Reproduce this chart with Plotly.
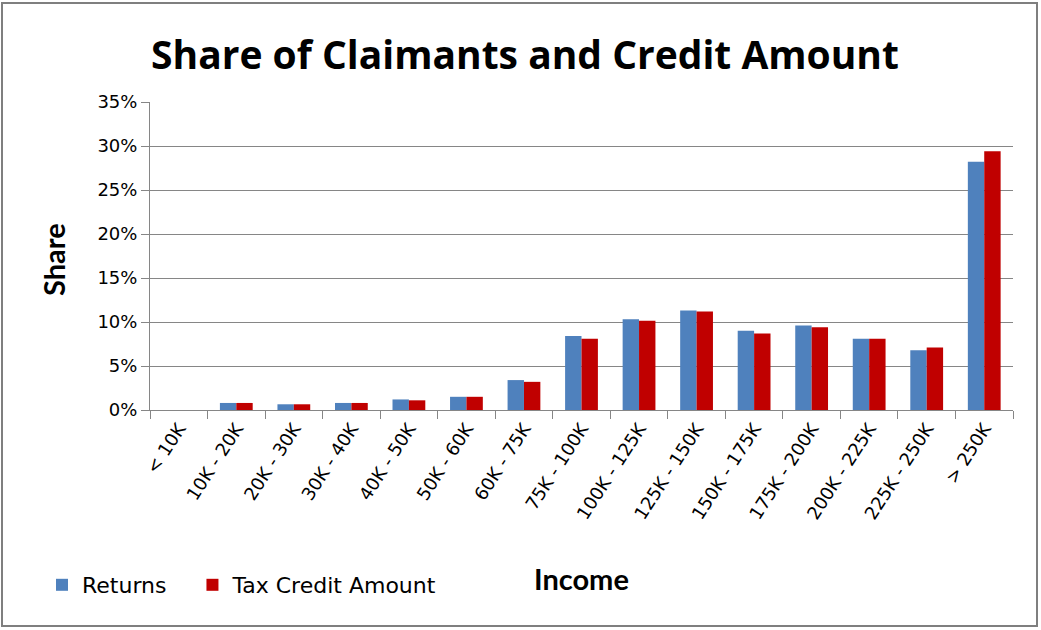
import plotly.graph_objects as go

categories = ["< 10K", "10K - 20K", "20K - 30K", "30K - 40K", "40K - 50K", "50K - 60K",
              "60K - 75K", "75K - 100K", "100K - 125K", "125K - 150K", "150K - 175K",
              "175K - 200K", "200K - 225K", "225K - 250K", "> 250K"]
returns = [0.0, 0.8, 0.65, 0.8, 1.2, 1.5, 3.4, 8.4, 10.3, 11.3, 9.0, 9.6, 8.1, 6.8, 28.2]
credit_amount = [0.0, 0.8, 0.65, 0.8, 1.1, 1.5, 3.2, 8.1, 10.15, 11.2, 8.7, 9.4, 8.1, 7.1, 29.4]
y_ticks = [0, 5, 10, 15, 20, 25, 30, 35]
y_tick_labels = [f"{v}%" for v in y_ticks]

BODY = "DejaVu Sans"
W, H = 1041, 630
L, R, T, B = 150, 28, 102, 220
pw, ph = W - L - R, H - T - B

def px_x(p):
    return (p - L) / pw

def px_y(p):
    return (H - B - p) / ph

fig = go.Figure()
fig.add_trace(go.Bar(x=categories, y=returns, name="Returns\u00a0\u00a0\u00a0",
                     marker=dict(color="#4F81BD", line=dict(width=0))))
fig.add_trace(go.Bar(x=categories, y=credit_amount, name="Tax Credit Amount",
                     marker=dict(color="#C00000", line=dict(width=0))))

fig.update_layout(
    width=W, height=H,
    margin=dict(l=L, r=R, t=T, b=B),
    paper_bgcolor="white", plot_bgcolor="white",
    barmode="group", bargap=0.43, bargroupgap=0,
    font=dict(family=BODY, color="black", size=18),
    title=dict(text="<b>Share of Claimants and Credit Amount</b>",
               font=dict(family="Open Sans", size=39, color="black"),
               x=525 / W, xref="container", xanchor="center",
               y=1 - 55 / H, yref="container", yanchor="middle"),
    showlegend=True,
    legend=dict(orientation="h", x=px_x(42), y=px_y(585), xanchor="left", yanchor="middle",
                font=dict(family=BODY, size=22, color="black"),
                itemwidth=30, tracegroupgap=0, bgcolor="rgba(0,0,0,0)"),
    xaxis=dict(tickangle=-57, tickson="boundaries", ticks="outside", ticklen=8,
               tickcolor="#868686", showline=True, linecolor="#868686", linewidth=1,
               tickfont=dict(family=BODY, size=18, color="black"), showgrid=False),
    yaxis=dict(range=[0, 35], tickvals=y_ticks, ticktext=y_tick_labels,
               showgrid=True, gridcolor="#868686", gridwidth=1,
               showline=True, linecolor="#868686", linewidth=1,
               ticks="outside", ticklen=8, tickcolor="#868686",
               tickfont=dict(family=BODY, size=18, color="black"), zeroline=False),
    annotations=[
        dict(text="<b>Income</b>", x=px_x(581), y=px_y(578), xref="paper", yref="paper",
             showarrow=False, font=dict(family="Lato", size=29, color="black"),
             xanchor="center", yanchor="middle"),
        dict(text="<b>Share</b>", x=px_x(53), y=px_y(260), xref="paper", yref="paper",
             showarrow=False, textangle=-90, font=dict(family="Lato", size=29, color="black"),
             xanchor="center", yanchor="middle"),
    ],
    shapes=[dict(type="rect", xref="paper", yref="paper",
                 x0=px_x(2), x1=px_x(1037), y0=px_y(626), y1=px_y(3),
                 line=dict(color="#7F7F7F", width=2), fillcolor="rgba(0,0,0,0)", layer="below")],
)

fig.write_html("out.html", config={"displayModeBar": False},
               post_script="document.body.style.margin='0';")
